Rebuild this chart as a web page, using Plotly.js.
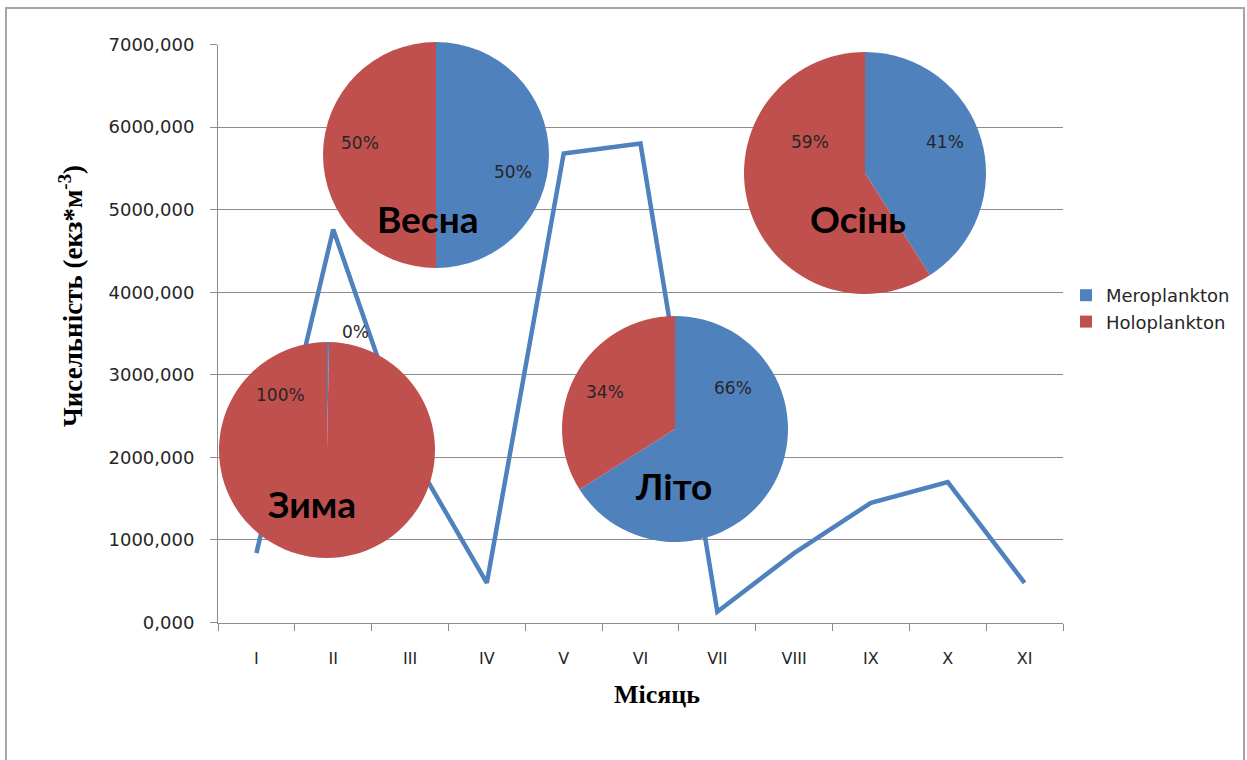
<!DOCTYPE html>
<html>
<head>
<meta charset="utf-8">
<script src="https://cdn.plot.ly/plotly-3.0.1.min.js"></script>
<style>
  html, body { margin: 0; padding: 0; background: #ffffff; }
  #chart { width: 1247px; height: 760px; }
</style>
</head>
<body>
<div id="chart"></div>
<script>
// Monthly plankton abundance (ind./m3)
const months = ['I', 'II', 'III', 'IV', 'V', 'VI', 'VII', 'VIII', 'IX', 'X', 'XI'];
const abundance = [840, 4760, 2080, 480, 5680, 5800, 130, 840, 1450, 1700, 480];

// Seasonal share of the two plankton groups, %
const groups = ['Meroplankton', 'Holoplankton'];
const winterShare = [0.3, 99.7];
const springShare = [50, 50];
const summerShare = [66, 34];
const autumnShare = [41, 59];

const seasonNames = ['Зима', 'Весна', 'Літо', 'Осінь'];

const W = 1247, H = 760;
const px = x => x / W;
const py = y => 1 - y / H;

const BLUE = '#4F81BD';
const RED = '#C0504D';
const GRID = '#8C8C8C';
const TXT = '#262626';
const SANS = 'DejaVu Sans';

// Layout of each seasonal pie: centre, radius, caption and where the
// percentage labels of its two slices sit (all in pixels)
const pieSpecs = [
  { values: winterShare, cx: 327, cy: 450, r: 108, caption: [312, 504], labels: [[355, 332], [280, 395]] },
  { values: springShare, cx: 436, cy: 155, r: 113, caption: [428, 218], labels: [[513, 172], [360, 143]] },
  { values: summerShare, cx: 675, cy: 429, r: 113, caption: [673, 485], labels: [[733, 388], [605, 392]] },
  { values: autumnShare, cx: 865, cy: 173, r: 121, caption: [858, 218], labels: [[945, 142], [810, 142]] }
];

function pieTrace(spec) {
  return {
    type: 'pie',
    labels: groups,
    values: spec.values,
    sort: false,
    direction: 'clockwise',
    rotation: 0,
    domain: {
      x: [px(spec.cx - spec.r), px(spec.cx + spec.r)],
      y: [py(spec.cy + spec.r), py(spec.cy - spec.r)]
    },
    marker: { colors: [BLUE, RED], line: { width: 0 } },
    textinfo: 'none',
    hoverinfo: 'label+percent',
    showlegend: true
  };
}

// percentage labels computed from the slice values
function percentLabels(spec) {
  const total = spec.values.reduce((a, b) => a + b, 0);
  return spec.values.map((v, i) => ({
    text: Math.round(100 * v / total) + '%',
    xref: 'paper', yref: 'paper',
    x: px(spec.labels[i][0]), y: py(spec.labels[i][1]),
    xanchor: 'center', yanchor: 'middle',
    showarrow: false,
    font: { family: SANS, size: 17, color: TXT }
  }));
}

const line = {
  type: 'scatter',
  mode: 'lines',
  x: months,
  y: abundance,
  line: { color: BLUE, width: 4.5 },
  showlegend: false,
  hoverinfo: 'x+y'
};

const data = [line].concat(pieSpecs.map(pieTrace));

// season captions drawn over each pie
const captions = pieSpecs.map((spec, i) => ({
  text: seasonNames[i],
  xref: 'paper', yref: 'paper',
  x: px(spec.caption[0]), y: py(spec.caption[1]),
  xanchor: 'center', yanchor: 'middle',
  showarrow: false,
  font: { family: 'Lato', size: 37, weight: 'bold', color: '#000000' }
}));

const sliceLabels = pieSpecs.map(percentLabels).flat();

const axisTitles = [
  {
    text: 'Чисельність (екз*м<sup>-3</sup>)',
    xref: 'paper', yref: 'paper',
    x: px(71), y: py(296),
    xanchor: 'center', yanchor: 'middle',
    textangle: -90,
    showarrow: false,
    font: { family: 'Liberation Serif', size: 27, weight: 'bold', color: '#000000' }
  },
  {
    text: 'Місяць',
    xref: 'paper', yref: 'paper',
    x: px(657), y: py(694),
    xanchor: 'center', yanchor: 'middle',
    showarrow: false,
    font: { family: 'Liberation Serif', size: 26, weight: 'bold', color: '#000000' }
  }
];

const layout = {
  width: W,
  height: H,
  autosize: false,
  margin: { l: 0, r: 0, t: 0, b: 0, pad: 0 },
  paper_bgcolor: '#ffffff',
  plot_bgcolor: '#ffffff',
  separators: ', ',
  xaxis: {
    domain: [px(218), px(1063)],
    type: 'category',
    range: [-0.5, months.length - 0.5],
    tickson: 'boundaries',
    ticks: 'outside',
    ticklen: 7,
    tickcolor: GRID,
    showline: true,
    linecolor: GRID,
    linewidth: 1,
    showgrid: false,
    zeroline: false,
    tickfont: { family: SANS, size: 16, color: TXT },
    ticklabelstandoff: 21,
    automargin: false,
    fixedrange: true
  },
  yaxis: {
    domain: [py(622.5), py(44.5)],
    range: [0, 7000],
    tick0: 0,
    dtick: 1000,
    tickformat: '.3f',
    ticks: 'outside',
    ticklen: 7,
    tickcolor: GRID,
    showline: true,
    linecolor: GRID,
    linewidth: 1,
    showgrid: true,
    gridcolor: GRID,
    gridwidth: 1,
    zeroline: false,
    tickfont: { family: SANS, size: 18, color: TXT },
    ticklabelstandoff: 12,
    automargin: false,
    fixedrange: true
  },
  legend: {
    x: px(1066), xanchor: 'left',
    y: py(277), yanchor: 'top',
    font: { family: SANS, size: 18, color: TXT },
    bgcolor: 'rgba(0,0,0,0)',
    traceorder: 'normal',
    itemclick: false,
    itemdoubleclick: false
  },
  annotations: captions.concat(sliceLabels, axisTitles),
  shapes: [{
    type: 'rect',
    xref: 'paper', yref: 'paper',
    x0: px(6), x1: px(1244), y0: -0.02, y1: py(8),
    line: { color: '#A6A6A6', width: 2 },
    layer: 'below'
  }]
};

Plotly.newPlot('chart', data, layout, { displayModeBar: false, staticPlot: true });
</script>
</body>
</html>
